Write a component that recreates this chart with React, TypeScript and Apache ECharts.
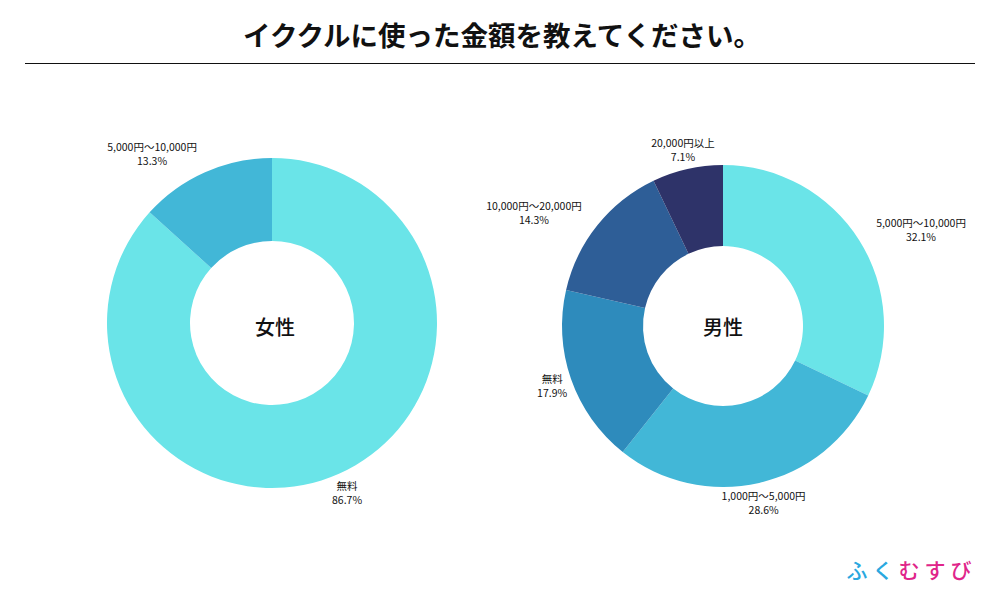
import React, { useEffect, useRef } from "react";
import * as echarts from "echarts";

const TITLE = "イククルに使った金額を教えてください。";
const femaleName = "女性";
const maleName = "男性";
const femaleCategories = ["無料", "5,000円〜10,000円"];
const femaleValues = [86.7, 13.3];
const femaleColors = ["#6AE4E8", "#42B7D7"];
const maleCategories = ["5,000円〜10,000円", "1,000円〜5,000円", "無料", "10,000円〜20,000円", "20,000円以上"];
const maleValues = [32.1, 28.6, 17.9, 14.3, 7.1];
const maleColors = ["#6AE4E8", "#42B7D7", "#2E8BBC", "#2E5E97", "#2E3369"];
const logoChars = ["ふ", "く", "む", "す", "び"];
const logoColors = ["#2AA8DF", "#2AA8DF", "#E0258A", "#E0258A", "#E0258A"];

const FONT = "'Noto Sans CJK JP', 'Noto Sans', sans-serif";

const pies = [
  { cx: 272, cy: 323, r0: 82, r: 165, values: femaleValues },
  { cx: 723, cy: 326, r0: 80, r: 161, values: maleValues },
];
const LABEL_GAP = 20;

function midAngle(values: number[], i: number) {
  const total = values.reduce((a, b) => a + b, 0);
  let cum = 0;
  for (let k = 0; k < i; k++) cum += values[k];
  return ((cum + values[i] / 2) / total) * Math.PI * 2;
}

export default function App() {
  const ref = useRef<HTMLDivElement>(null);
  useEffect(() => {
    document.body.style.margin = "0";
    const chart = echarts.init(ref.current!, null, { renderer: "svg" });
    const makeSeries = (idx: number, cats: string[], vals: number[], colors: string[]) => ({
      type: "pie",
      silent: true,
      center: [pies[idx].cx, pies[idx].cy],
      radius: [pies[idx].r0, pies[idx].r],
      startAngle: 90,
      clockwise: true,
      avoidLabelOverlap: false,
      data: cats.map((c, i) => ({ name: c, value: vals[i], itemStyle: { color: colors[i] } })),
      label: {
        show: true,
        position: "outside",
        formatter: "{t|{b}}\n{t|{c}%}",
        rich: {
          t: { align: "center", fontSize: 10.5, lineHeight: 14, fontFamily: FONT, color: "#111" },
        },
      },
      labelLine: { show: false },
      labelLayout: (params: any) => {
        const p = pies[params.seriesIndex];
        const a = midAngle(p.values, params.dataIndex);
        const rr = p.r + LABEL_GAP;
        const px = p.cx + rr * Math.sin(a);
        const py = p.cy - rr * Math.cos(a);
        const w = params.labelRect.width;
        const h = params.labelRect.height;
        const nx = Math.max(px - w / 2, Math.min(p.cx, px + w / 2));
        const ny = Math.max(py - h / 2, Math.min(p.cy, py + h / 2));
        const d = Math.hypot(nx - p.cx, ny - p.cy);
        let align = "center";
        if (d < p.r) align = Math.sin(a) > 0 ? "left" : "right";
        return { x: px, y: py, align, verticalAlign: "middle" };
      },
      emphasis: { disabled: true },
    });
    chart.setOption({
      animation: false,
      backgroundColor: "#fff",
      series: [
        makeSeries(0, femaleCategories, femaleValues, femaleColors),
        makeSeries(1, maleCategories, maleValues, maleColors),
      ],
      graphic: [
        {
          type: "text",
          x: 502,
          y: 34,
          style: {
            text: TITLE,
            fontSize: 27.5,
            fontWeight: "bold",
            fontFamily: FONT,
            fill: "#111",
            align: "center",
            verticalAlign: "middle",
          },
        },
        {
          type: "line",
          shape: { x1: 25, y1: 63.5, x2: 975, y2: 63.5 },
          style: { stroke: "#111", lineWidth: 1 },
        },
        {
          type: "text",
          x: 275,
          y: 326,
          style: { text: femaleName, fontSize: 20, fontWeight: 500, fontFamily: FONT, fill: "#111", align: "center", verticalAlign: "middle" },
        },
        {
          type: "text",
          x: 723,
          y: 326,
          style: { text: maleName, fontSize: 20, fontWeight: 500, fontFamily: FONT, fill: "#111", align: "center", verticalAlign: "middle" },
        },
        ...logoChars.map((ch, i) => ({
          type: "text",
          x: 857 + i * 26,
          y: 569,
          style: { text: ch, fontSize: 21, fontWeight: 500, fontFamily: FONT, fill: logoColors[i], align: "center", verticalAlign: "middle" },
        })),
      ],
    });
    return () => chart.dispose();
  }, []);
  return <div ref={ref} style={{ position: "absolute", left: 0, top: 0, width: 1000, height: 600 }} />;
}
